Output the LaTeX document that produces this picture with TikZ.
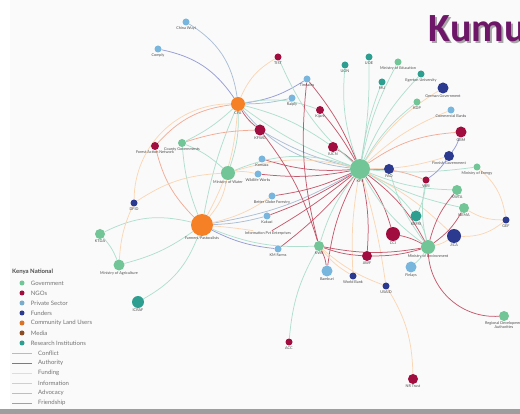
\documentclass[tikz,border=0pt]{standalone}
\usepackage{fontspec}
\setmainfont{Lato}
\newfontfamily\kumufont{Carlito}
\usetikzlibrary{positioning}
\definecolor{govc}{HTML}{72C596}
\definecolor{ngoc}{HTML}{A00D3E}
\definecolor{privc}{HTML}{78B6DE}
\definecolor{fundc}{HTML}{2B3A8F}
\definecolor{clandc}{HTML}{F58025}
\definecolor{mediac}{HTML}{8B4E24}
\definecolor{resc}{HTML}{2E9E90}
\definecolor{conflictc}{HTML}{A3B8D2}
\definecolor{authc}{HTML}{C0495E}
\definecolor{fundingc}{HTML}{FAD3AE}
\definecolor{infoc}{HTML}{A9DCCB}
\definecolor{advc}{HTML}{F2A48C}
\definecolor{friendc}{HTML}{8C93D0}
\definecolor{labc}{HTML}{4A4A4A}
\definecolor{kumuc}{HTML}{6E1768}
\pgfdeclarelayer{edges}
\pgfsetlayers{edges,main}
\tikzset{
  actor/.style={circle,inner sep=0pt,minimum size=#1},
  gov/.style={actor=#1,fill=govc}, gov/.default=7pt,
  ngo/.style={actor=#1,fill=ngoc}, ngo/.default=7pt,
  priv/.style={actor=#1,fill=privc}, priv/.default=7pt,
  fund/.style={actor=#1,fill=fundc}, fund/.default=7pt,
  cland/.style={actor=#1,fill=clandc}, cland/.default=7pt,
  research/.style={actor=#1,fill=resc}, research/.default=7pt,
  lbl/.style={font=\fontsize{3.8}{4.3}\selectfont,text=labc,inner sep=0.4pt},
  legend/.style={font=\fontsize{6}{7}\selectfont,text=black!55,inner sep=0pt,anchor=west},
  tie/.style={line width=0.75pt,opacity=0.9},
  conflict/.style={tie,draw=conflictc},
  authority/.style={tie,draw=authc},
  funding/.style={tie,draw=fundingc},
  information/.style={tie,draw=infoc},
  advocacy/.style={tie,draw=advc},
  friendship/.style={tie,draw=friendc}
}

\begin{document}
\begin{tikzpicture}[x=1pt,y=-1pt]
\useasboundingbox (0,0) rectangle (520,414);
\clip (0,0) rectangle (520,414);

\node[gov=20pt,label={[lbl]below:KFS}] (kfs) at (360,169) {};
\node[cland=22pt,label={[lbl]below:Farmers/Pastoralists}] (farmers) at (202,225) {};
\node[cland=14pt,label={[lbl]below:CFA}] (cfa) at (238,104) {};
\node[priv,label={[lbl]below:China Wuyi}] (chinawuyi) at (186,22) {};
\node[priv,label={[lbl]below:Comply}] (comply) at (158,49) {};
\node[ngo,label={[lbl]below:TIST}] (tist) at (278,57) {};
\node[priv,label={[lbl]below:Timsales}] (timsales) at (307,79) {};
\node[priv,label={[lbl]below:Raiply}] (raiply) at (292,98) {};
\node[ngo=8pt,label={[lbl]below:Kijani}] (kijani) at (320,110) {};
\node[research,label={[lbl]below:UON}] (uon) at (345,65) {};
\node[research,label={[lbl]below:UOE}] (uoe) at (369,57) {};
\node[gov,label={[lbl]below:Ministry of Education}] (mined) at (398,62) {};
\node[research,label={[lbl]below:MU}] (mu) at (382,82) {};
\node[research,label={[lbl]below:Egerton University}] (egerton) at (421,74) {};
\node[fund=11pt,label={[lbl]below:German Government}] (german) at (443,88) {};
\node[gov,label={[lbl]below:KDP}] (kdp) at (417,102) {};
\node[priv,label={[lbl]below:Commercial Banks}] (banks) at (451,110) {};
\node[ngo=11pt,label={[lbl]below:GBM}] (gbm) at (461,132) {};
\node[ngo=11pt,label={[lbl]below:KFWG}] (kfwg) at (260,130) {};
\node[ngo=10pt,label={[lbl]below:IUCN}] (iucn) at (333,147) {};
\node[fund=10pt,label={[lbl]below:FAO}] (fao) at (389,169) {};
\node[ngo,label={[lbl]below:WRI}] (wri) at (426,180) {};
\node[fund=10pt,label={[lbl]below:Finnish Government}] (finnish) at (449,156) {};
\node[gov,label={[lbl]below:Ministry of Energy}] (minenergy) at (477,167) {};
\node[gov=10pt,label={[lbl]below:KWTA}] (kwta) at (457,190) {};
\node[gov=10pt,label={[lbl]below:NEMA}] (nema) at (464,208) {};
\node[fund,label={[lbl]below:GEF}] (gef) at (506,220) {};
\node[research=11pt,label={[lbl]below:KEFRI}] (kefri) at (416,216) {};
\node[ngo=14pt,label={[lbl]below:CCI}] (cci) at (393,234) {};
\node[fund=14pt,label={[lbl]below:JICA}] (jica) at (454,236) {};
\node[gov=14pt,label={[lbl]below:Ministry of Environment}] (minenv) at (428,247) {};
\node[gov=10pt,label={[lbl]below:KWS}] (kws) at (319,246) {};
\node[ngo=10pt,label={[lbl]below:AWF}] (awf) at (367,256) {};
\node[priv,label={[lbl]below:Komaza}] (komaza) at (262,159) {};
\node[priv,label={[lbl]below:Wildlife Works}] (wildlife) at (258,174) {};
\node[priv,label={[lbl]below:Better Globe Forestry}] (betterglobe) at (272,196) {};
\node[priv,label={[lbl]below:Kakuzi}] (kakuzi) at (267,216) {};
\node[lbl] (infopvt) at (268,233) {Information Pvt Enterprises};
\node[priv,label={[lbl]below:KM Farms}] (kmfarms) at (278,249) {};
\node[priv=11pt,label={[lbl]below:Bamburi}] (bamburi) at (327,271) {};
\node[fund,label={[lbl]below:World Bank}] (worldbank) at (353,276) {};
\node[fund,label={[lbl]below:USAID}] (usaid) at (386,286) {};
\node[priv=11pt,label={[lbl]below:Finlays}] (finlays) at (411,267) {};
\node[gov=10pt,label={[lbl,align=center]below:Regional Development\\Authorities}] (regional) at (504,316) {};
\node[ngo,label={[lbl]below:ACC}] (acc) at (289,342) {};
\node[ngo=10pt,label={[lbl]below:NR Trust}] (nrtrust) at (413,379) {};
\node[ngo=8pt,label={[lbl]below:Forest Action Network}] (fan) at (155,146) {};
\node[gov=8pt,label={[lbl]below:County Governments}] (county) at (182,143) {};
\node[gov=14pt,label={[lbl]below:Ministry of Water}] (minwater) at (228,173) {};
\node[fund,label={[lbl]below:DFID}] (dfid) at (134,203) {};
\node[gov=10pt,label={[lbl]below:KTDA}] (ktda) at (100,234) {};
\node[gov=11pt,label={[lbl]below:Ministry of Agriculture}] (minag) at (119,265) {};
\node[research=12pt,label={[lbl]below:ICRAF}] (icraf) at (138,302) {};

\begin{pgfonlayer}{edges}
\fill[white] (0,0) rectangle (520,414);
\fill[black!2] (10,0) rectangle (520,414);
\fill[black!38] (0,409) rectangle (520,414);
\node[font=\kumufont\bfseries\fontsize{40}{40}\selectfont,text=black!35,anchor=base west] (kumushadow) at (427,44) {Kumu};
\node[font=\kumufont\bfseries\fontsize{40}{40}\selectfont,text=kumuc,anchor=base west] (kumu) at (425,42) {Kumu};

\draw[conflict] (cfa) to[bend right=25] (chinawuyi);
\draw[friendship] (cfa) to[bend right=22] (comply);
\draw[friendship] (cfa) to[bend right=12] (timsales);
\draw[conflict] (cfa) to[bend right=6] (raiply);
\draw[funding] (cfa) to[bend left=18] (tist);
\draw[information] (cfa) to[bend right=8] (kfs);
\draw[conflict] (cfa) to[bend right=22] (kfs);
\draw[advocacy] (cfa) to[bend right=20] (fan);
\draw[funding] (cfa) to[bend right=45] (dfid);
\draw[information] (cfa) to[bend left=8] (county);
\draw[information] (cfa) to[bend left=10] (minwater);
\draw[funding] (cfa) to[bend left=12] (farmers);
\draw[information] (cfa) to[bend right=6] (farmers);
\draw[authority] (cfa) to[bend right=10] (kfwg);
\draw[information] (cfa) to[bend left=15] (kijani);
\draw[information] (cfa) to[bend left=10] (iucn);

\draw[authority] (kfs) to[bend right=8] (iucn);
\draw[conflict] (kfs) to[bend left=8] (kfwg);
\draw[authority] (kfs) to[bend left=10] (komaza);
\draw[authority] (kfs) to[bend left=8] (wildlife);
\draw[authority] (kfs) to[bend left=8] (betterglobe);
\draw[authority] (kfs) to[bend left=6] (kakuzi);
\draw[authority] (kfs) to[bend left=4] (infopvt);
\draw[authority] (kfs) to[bend left=6] (kmfarms);
\draw[information] (kfs) to[bend right=10] (kws);
\draw[authority] (kfs) to[bend right=10] (bamburi);
\draw[authority] (kfs) to[bend left=8] (awf);
\draw[funding] (kfs) to[bend right=6] (worldbank);
\draw[funding] (kfs) to[bend left=4] (usaid);
\draw[authority] (kfs) to[bend left=10] (cci);
\draw[authority] (kfs) to[bend left=12] (minenv);
\draw[information] (kfs) to[bend right=12] (minenv);
\draw[information] (kfs) to[bend left=10] (kefri);
\draw[information] (kfs) to[bend right=8] (nema);
\draw[information] (kfs) to[bend right=10] (kwta);
\draw[advocacy] (kfs) to[bend left=10] (wri);
\draw[friendship] (kfs) to (fao);
\draw[funding] (kfs) to[bend right=8] (finnish);
\draw[advocacy] (kfs) to[bend left=15] (gbm);
\draw[funding] (kfs) to[bend left=12] (german);
\draw[information] (kfs) to[bend left=10] (kdp);
\draw[information] (kfs) to[bend left=10] (egerton);
\draw[information] (kfs) to[bend left=6] (mu);
\draw[information] (kfs) to[bend right=5] (uoe);
\draw[information] (kfs) to[bend left=12] (uon);
\draw[information] (kfs) to[bend left=8] (mined);
\draw[authority] (kfs) to[bend right=5] (kijani);
\draw[authority] (kfs) to[bend right=8] (timsales);
\draw[information] (kfs) to[bend left=12] (tist);
\draw[funding] (kfs) to[bend left=10] (banks);
\draw[funding] (kfs) to[bend right=15] (minwater);
\draw[conflict] (kfs) to[bend left=10] (farmers);
\draw[information] (kfs) to[bend right=6] (minenergy);
\draw[funding] (kfs) to[bend left=8] (jica);
\draw[information] (kfs) to[bend right=20] (minwater);

\draw[information] (minenv) to[bend right=10] (kefri);
\draw[authority] (minenv) to[bend right=12] (nema);
\draw[authority] (minenv) to[bend left=12] (kwta);
\draw[authority] (minenv) to[bend left=8] (awf);
\draw[authority] (minenv) to[bend left=10] (kws);
\draw[authority] (minenv) to[bend right=45] (regional);
\draw[authority] (minenv) to[bend right=8] (cci);
\draw[information] (minenv) to[bend left=8] (finlays);
\draw[funding] (minenv) to[bend right=10] (jica);
\draw[information] (minenv) to[bend left=12] (wri);
\draw[information] (minenv) to[bend left=10] (fao);

\draw[information] (farmers) to[bend right=20] (ktda);
\draw[information] (farmers) to[bend left=10] (minag);
\draw[funding] (farmers) to[bend right=10] (betterglobe);
\draw[conflict] (farmers) to[bend right=6] (kakuzi);
\draw[funding] (farmers) to[bend left=2] (infopvt);
\draw[friendship] (farmers) to[bend right=10] (kmfarms);
\draw[information] (farmers) to[bend right=12] (kws);
\draw[advocacy] (farmers) to[bend left=15] (fan);
\draw[information] (farmers) to[bend left=8] (county);
\draw[funding] (farmers) to[bend right=15] (minwater);
\draw[information] (farmers) to[bend left=20] (icraf);

\draw[funding] (dfid) to[bend left=15] (minwater);
\draw[funding] (dfid) to[bend right=10] (minag);
\draw[information] (ktda) to[bend left=10] (minag);
\draw[information] (kws) to[bend right=12] (acc);
\draw[funding] (usaid) to[bend left=15] (nrtrust);
\draw[funding] (gef) to[bend left=15] (nema);
\draw[funding] (gef) to[bend right=20] (minenergy);
\draw[funding] (gef) to[bend left=20] (jica);
\draw[friendship] (finnish) to[bend right=10] (gbm);
\draw[friendship] (finnish) to[bend left=10] (wri);
\draw[authority] (kws) to[bend right=8] (awf);
\draw[funding] (worldbank) to[bend left=10] (kws);
\draw[funding] (usaid) to[bend left=10] (kws);
\draw[authority] (bamburi) to[bend right=10] (kws);
\draw[advocacy] (kfwg) to[bend right=8] (county);
\draw[authority] (kfwg) to[bend left=10] (kws);
\draw[authority] (timsales) to[bend right=10] (kws);
\draw[information] (county) to[bend left=10] (minwater);
\draw[funding] (minwater) to[bend left=10] (wildlife);
\draw[information] (wri) to[bend left=10] (kefri);
\end{pgfonlayer}

\node[font=\fontsize{6}{7}\selectfont\bfseries,text=black!70,anchor=west,inner sep=0pt] (lgtitle) at (12,272) {Kenya National};
\node[actor=5pt,fill=govc] (lg1) at (22,283) {};
\node[legend,right=6pt of lg1] {Government};
\node[actor=5pt,fill=ngoc] (lg2) at (22,293) {};
\node[legend,right=6pt of lg2] {NGOs};
\node[actor=5pt,fill=privc!80!gray] (lg3) at (22,303) {};
\node[legend,right=6pt of lg3] {Private Sector};
\node[actor=5pt,fill=fundc] (lg4) at (22,313) {};
\node[legend,right=6pt of lg4] {Funders};
\node[actor=5pt,fill=clandc!75!mediac] (lg5) at (22,323) {};
\node[legend,right=6pt of lg5] {Community Land Users};
\node[actor=5pt,fill=mediac] (lg6) at (22,333) {};
\node[legend,right=6pt of lg6] {Media};
\node[actor=5pt,fill=resc] (lg7) at (22,343) {};
\node[legend,right=6pt of lg7] {Research Institutions};

\coordinate (lc1) at (12,353);
\coordinate (lc1e) at (32,353);
\draw[conflict] (lc1) -- (lc1e);
\node[legend,right=6pt of lc1e] {Conflict};
\coordinate (lc2) at (12,363);
\coordinate (lc2e) at (32,363);
\draw[authority] (lc2) -- (lc2e);
\node[legend,right=6pt of lc2e] {Authority};
\coordinate (lc3) at (12,373);
\coordinate (lc3e) at (32,373);
\draw[funding] (lc3) -- (lc3e);
\node[legend,right=6pt of lc3e] {Funding};
\coordinate (lc4) at (12,383);
\coordinate (lc4e) at (32,383);
\draw[information] (lc4) -- (lc4e);
\node[legend,right=6pt of lc4e] {Information};
\coordinate (lc5) at (12,393);
\coordinate (lc5e) at (32,393);
\draw[advocacy] (lc5) -- (lc5e);
\node[legend,right=6pt of lc5e] {Advocacy};
\coordinate (lc6) at (12,403);
\coordinate (lc6e) at (32,403);
\draw[friendship] (lc6) -- (lc6e);
\node[legend,right=6pt of lc6e] {Friendship};
\end{tikzpicture}
\end{document}
